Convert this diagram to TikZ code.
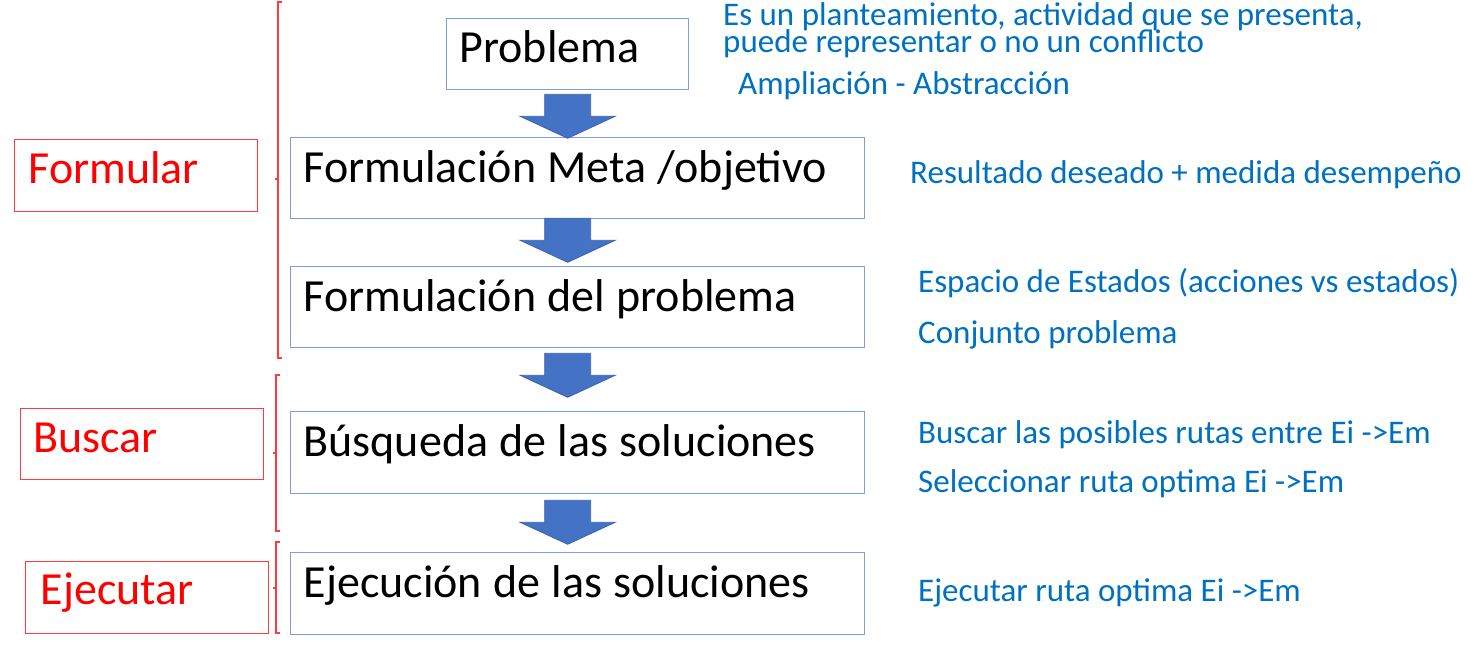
\documentclass[tikz,border=0pt]{standalone}
\usepackage{fontspec}
\setmainfont{Carlito}
\usetikzlibrary{calc}
\definecolor{txtblue}{HTML}{0070C0}
\definecolor{boxblue}{HTML}{7F9FDB}
\definecolor{arrfill}{HTML}{4472C4}
\definecolor{arrline}{HTML}{3A62AE}
\definecolor{redline}{HTML}{FF3B3B}
\definecolor{redtxt}{HTML}{FF0000}
\tikzset{
  bigfont/.style={font=\fontsize{46pt}{50pt}\selectfont,
     execute at begin node={\spaceskip=11.3pt plus 1pt minus 1pt\relax}},
  bluefont/.style={font=\fontsize{33pt}{36pt}\selectfont},
  stepbox/.style={draw=boxblue, line width=1.3pt, bigfont, anchor=north west,
     inner xsep=13pt, inner ysep=0pt, align=left},
  phasebox/.style={draw=redline, line width=1.3pt, bigfont, text=redtxt, anchor=north west,
     inner ysep=0pt, align=left},
  note/.style={bluefont, text=txtblue, anchor=base west, inner sep=0pt},
  bracestyle/.style={draw=redline, line width=1.2pt},
  blockarr/.pic={\draw[fill=arrfill, draw=arrline, line width=0.8pt]
     (-23,0) -- (23,0) -- (23,22) -- (47.5,22) -- (0,44) -- (-47.5,22) -- (-23,22) -- cycle;}
}
\begin{document}
\begin{tikzpicture}[x=1pt,y=-1pt]
\useasboundingbox (0,0) rectangle (1481,650);

% step boxes
\node[stepbox, text width=216pt, text height=44pt, text depth=27pt] (b1) at (446,18) {Problema};
\node[stepbox, text width=548pt, text height=45pt, text depth=36pt] (b2) at (290,137) {Formulación Meta /objetivo};
\node[stepbox, text width=548pt, text height=45pt, text depth=36pt] (b3) at (290,266) {Formulación del problema};
\node[stepbox, text width=548pt, text height=45pt, text depth=37pt] (b4) at (290,411) {Búsqueda de las soluciones};
\node[stepbox, text width=548pt, text height=45pt, text depth=37pt] (b5) at (290,552) {Ejecución de las soluciones};

% block arrows
\path (b1.south) ++(0,4) pic {blockarr};
\path (b1.south |- b2.south) ++(0,-1) pic {blockarr};
\path (b1.south |- b3.south) ++(0,5) pic {blockarr};
\path (b1.south |- b4.south) ++(0,6) pic {blockarr};

% phase boxes
\node[phasebox, inner xsep=14pt, text width=215pt, text height=44pt, text depth=28pt] (r1) at (14,139) {Formular};
\node[phasebox, inner xsep=13pt, text width=217pt, text height=44pt, text depth=27pt] (r2) at (20,408) {Buscar};
\node[phasebox, inner xsep=15pt, text width=213pt, text height=43pt, text depth=29pt] (r3) at (25,561) {Ejecutar};

% braces
\draw[bracestyle] (282,2) -- (278,2) -- (278,179) -- (275,179) (278,179) -- (278,358) -- (282,358);
\draw[bracestyle] (280,375) -- (276,375) -- (276,453) -- (273,453) (276,453) -- (276,531) -- (280,531);
\draw[bracestyle] (280,542) -- (276,542) -- (276,588) -- (273,588) (276,588) -- (276,633) -- (280,633);

% notes
\node[note] (n1) at (723,26) {Es un planteamiento, actividad que se presenta,};
\node[note] (n2) at (723,53) {puede representar o no un conflicto};
\node[note] (n3) at (738,95) {Ampliación - Abstracción};
\node[note] (n4) at (910,183) {Resultado deseado + medida desempeño};
\node[note] (n5) at (918,292) {Espacio de Estados (acciones vs estados)};
\node[note] (n6) at (918,343) {Conjunto problema};
\node[note] (n7) at (918,443) {Buscar las posibles rutas entre Ei ->Em};
\node[note] (n8) at (918,492) {Seleccionar ruta optima Ei ->Em};
\node[note] (n9) at (918,601) {Ejecutar ruta optima Ei ->Em};
\end{tikzpicture}
\end{document}
